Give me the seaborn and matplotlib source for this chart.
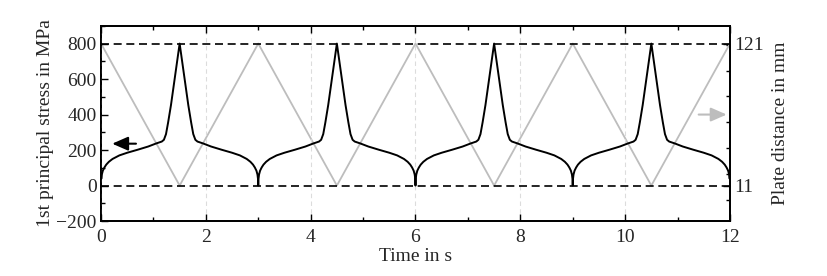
import matplotlib
matplotlib.use("Agg")
import matplotlib.pyplot as plt
import matplotlib.ticker as mticker
import numpy as np
import pandas as pd
import seaborn as sns

# Stress over one half cycle: time from the valley (s) -> MPa
HALF_T = [0.0, 0.005, 0.015, 0.035, 0.065, 0.1, 0.15, 0.22, 0.35, 0.5, 0.7,
          0.9, 1.05, 1.16, 1.2, 1.24, 1.28, 1.335, 1.38, 1.425, 1.47, 1.5]
HALF_STRESS = [0, 38, 62, 84, 102, 118, 134, 150, 170, 185, 202,
               220, 237, 248, 258, 290, 355, 454, 548, 642, 737, 800]
N_CYCLES = 4
CYCLE = 3.0
STRESS_AT_ENDS = 70  # first/last sample does not reach the valley

# Plate distance (triangle), mm
PLATE_T = [0, 1.5, 3, 4.5, 6, 7.5, 9, 10.5, 12]
PLATE_MM = [121, 11, 121, 11, 121, 11, 121, 11, 121]

X_TICKS = [0, 2, 4, 6, 8, 10, 12]
Y_TICKS = [-200, 0, 200, 400, 600, 800]
MM_TICKS = [11, 121]

# build the stress series from the half cycle (mirror + repeat)
cyc_t = HALF_T + [CYCLE - d for d in reversed(HALF_T[:-1])]
cyc_v = HALF_STRESS + list(reversed(HALF_STRESS[:-1]))
time = np.concatenate([np.array(cyc_t[:-1]) + CYCLE * k for k in range(N_CYCLES)]
                      + [[CYCLE * N_CYCLES]])
stress = np.array(cyc_v[:-1] * N_CYCLES + [cyc_v[-1]], dtype=float)
stress[0] = stress[-1] = STRESS_AT_ENDS
stress_df = pd.DataFrame({"t": time, "stress": stress})
plate_df = pd.DataFrame({"t": PLATE_T, "mm": PLATE_MM})

sns.set_theme(style="ticks")
plt.rcParams["font.family"] = ["Liberation Serif", "DejaVu Serif"]
FS = 14

fig = plt.figure(figsize=(8.28, 2.76), dpi=100)
ax = fig.add_axes([0.122, 0.199, 0.7596, 0.7075])
ax2 = ax.twinx()
ax.set_zorder(ax2.get_zorder() + 1)
ax.patch.set_visible(False)

ylim = (-200, 900)
ax.set_ylim(*ylim)
ax2.set_ylim(11 + ylim[0] * 110 / 800, 11 + ylim[1] * 110 / 800)
ax.set_xlim(0, 12)

# plate distance on the right axis
sns.lineplot(data=plate_df, x="t", y="mm", ax=ax2, color="#bdbdbd",
             lw=1.3, estimator=None)

# reference lines
ax.axhline(800, color="black", lw=1.2, ls=(0, (4.8, 2.8)), zorder=1)
ax.axhline(0, color="black", lw=1.2, ls=(0, (4.8, 2.8)), zorder=1)

sns.lineplot(data=stress_df, x="t", y="stress", ax=ax, color="black",
             lw=1.4, estimator=None, sort=False, zorder=3)

ax.grid(axis="x", color="#dcdcdc", ls=(0, (4, 3)), lw=0.8)

# arrows pointing at the respective axes
ax.annotate("", xy=(0.16, 236), xytext=(0.72, 236),
            arrowprops=dict(arrowstyle="-|>,head_length=0.8,head_width=0.35",
                            color="black", lw=1.5))
ax2.annotate("", xy=(11.99, 66), xytext=(11.35, 66),
             arrowprops=dict(arrowstyle="-|>,head_length=0.8,head_width=0.35",
                             color="#bdbdbd", lw=1.5))

ax.set_xticks(X_TICKS)
ax.set_yticks(Y_TICKS)
ax.xaxis.set_minor_locator(mticker.MultipleLocator(1))
ax.yaxis.set_minor_locator(mticker.MultipleLocator(100))
ax.tick_params(which="both", direction="in", top=True, right=False,
               labelsize=FS, color="black", width=1.0)
ax.tick_params(which="major", length=5, pad=3)
ax.tick_params(which="minor", length=3)
ax.tick_params(axis="x", which="major", pad=6)

ax2.set_yticks(MM_TICKS)
ax2.yaxis.set_minor_locator(mticker.FixedLocator(list(range(0, 121, 20))))
ax2.tick_params(which="both", direction="in", labelsize=FS, color="black",
                width=1.0, pad=3)
ax2.tick_params(which="major", length=5)
ax2.tick_params(which="minor", length=3)

for a in (ax, ax2):
    for s in a.spines.values():
        s.set_linewidth(1.3)
        s.set_color("black")

ax.set_xlabel("Time in s", fontsize=FS, labelpad=1)
ax.set_ylabel("1st principal stress in MPa", fontsize=FS, labelpad=2)
ax2.set_ylabel("Plate distance in mm", fontsize=FS, labelpad=6)

fig.savefig("out.png", dpi=100)
